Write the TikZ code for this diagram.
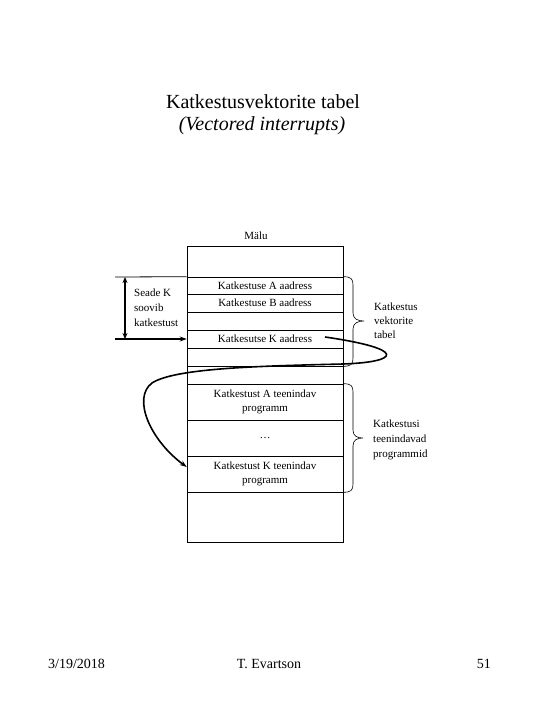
\documentclass[tikz,border=0pt]{standalone}
\usepackage{fontspec}
\setmainfont{Liberation Serif}
\usetikzlibrary{arrows.meta}

\begin{document}
\begin{tikzpicture}
    [x=1pt, y=-1pt,
    cell/.style={rectangle, draw=black, line width=0.6pt, minimum width=156pt, inner sep=0pt, align=center, font=\fontsize{11}{14.5}\selectfont},
    side/.style={anchor=west, align=left, inner sep=0pt, font=\fontsize{11}{15}\selectfont},
    pointer/.style={line width=1.6pt, -{Stealth[length=7pt,width=5pt]}},
    brace/.style={line width=0.6pt}]
    \useasboundingbox (0,0) rectangle (540,720);
    % title and footer
    \node(title)[anchor=base, inner sep=0pt, font=\fontsize{20}{24}\selectfont] at (263,108) {Katkestusvektorite tabel};
    \node(subtitle)[anchor=base, inner sep=0pt, font=\fontsize{20}{24}\selectfont\itshape] at (262,130) {(Vectored interrupts)};
    \node(date)[anchor=base west, inner sep=0pt, font=\fontsize{14}{16}\selectfont] at (48,668) {3/19/2018};
    \node(author)[anchor=base, inner sep=0pt, font=\fontsize{14}{16}\selectfont] at (269,668) {T. Evartson};
    \node(page)[anchor=base east, inner sep=0pt, font=\fontsize{14}{16}\selectfont] at (491,668) {51};
    % memory
    \node(mem)[anchor=base, inner sep=0pt, font=\fontsize{11}{14}\selectfont] at (256,239) {Mälu};
    \foreach \n/\y/\h/\t in {m0/261.5/31/{}, mA/285.5/17/{Katkestuse A aadress}, mB/303/18/{Katkestuse B aadress},
        m3/321/18/{}, mK/339/18/{Katkesutse K aadress}, m5/357/18/{}, m6/375/18/{},
        pA/402/36/{Katkestust A teenindav\\programm}, pD/438/36/{\dots}, pK/474/36/{Katkestust K teenindav\\programm},
        m10/517/50/{}}{
        \node(\n)[cell, minimum height=\h pt] at (265,\y) {\t};
    }
    % device request
    \coordinate (devtop) at (115,277);
    \coordinate (devreq) at (115,339);
    \coordinate (spantop) at (125,277);
    \coordinate (spanbot) at (125,339);
    \draw[line width=0.8pt] (devtop) -- (mA.north west);
    \draw[pointer] (devreq) -- (mK.west);
    \draw[line width=1.6pt, {Stealth[length=6pt,width=5pt]}-{Stealth[length=6pt,width=5pt]}] (spantop) -- (spanbot);
    \node(dev)[side] at (134,308) {Seade K\\soovib\\katkestust};
    % jump to the service routine
    \coordinate (kstart) at (325,337);
    \draw[pointer] (kstart) .. controls (408,349) and (400,362) .. (343,364)
        .. controls (260,366) and (175,368) .. (152,383)
        .. controls (132,398) and (150,440) .. ([yshift=7pt]pK.west);
    % braces
    \draw[brace] (mA.north east) .. controls +(8,0) and +(0,-6) .. (353,285) -- (353,313)
        .. controls +(0,6) and +(-6,0) .. (364,321) .. controls +(-6,0) and +(0,-6) .. (353,329)
        -- (353,358) .. controls +(0,6) and +(8,0) .. (m5.south east);
    \draw[brace] (pA.north east) .. controls +(8,0) and +(0,-6) .. (353,392) -- (353,430)
        .. controls +(0,6) and +(-6,0) .. (363,438) .. controls +(-6,0) and +(0,-6) .. (353,446)
        -- (353,484) .. controls +(0,6) and +(8,0) .. (pK.south east);
    \node(vtab)[side, font=\fontsize{11}{14}\selectfont] at (374,321) {Katkestus\\vektorite\\tabel};
    \node(serv)[side] at (373,440) {Katkestusi\\teenindavad\\programmid};
\end{tikzpicture}
\end{document}
